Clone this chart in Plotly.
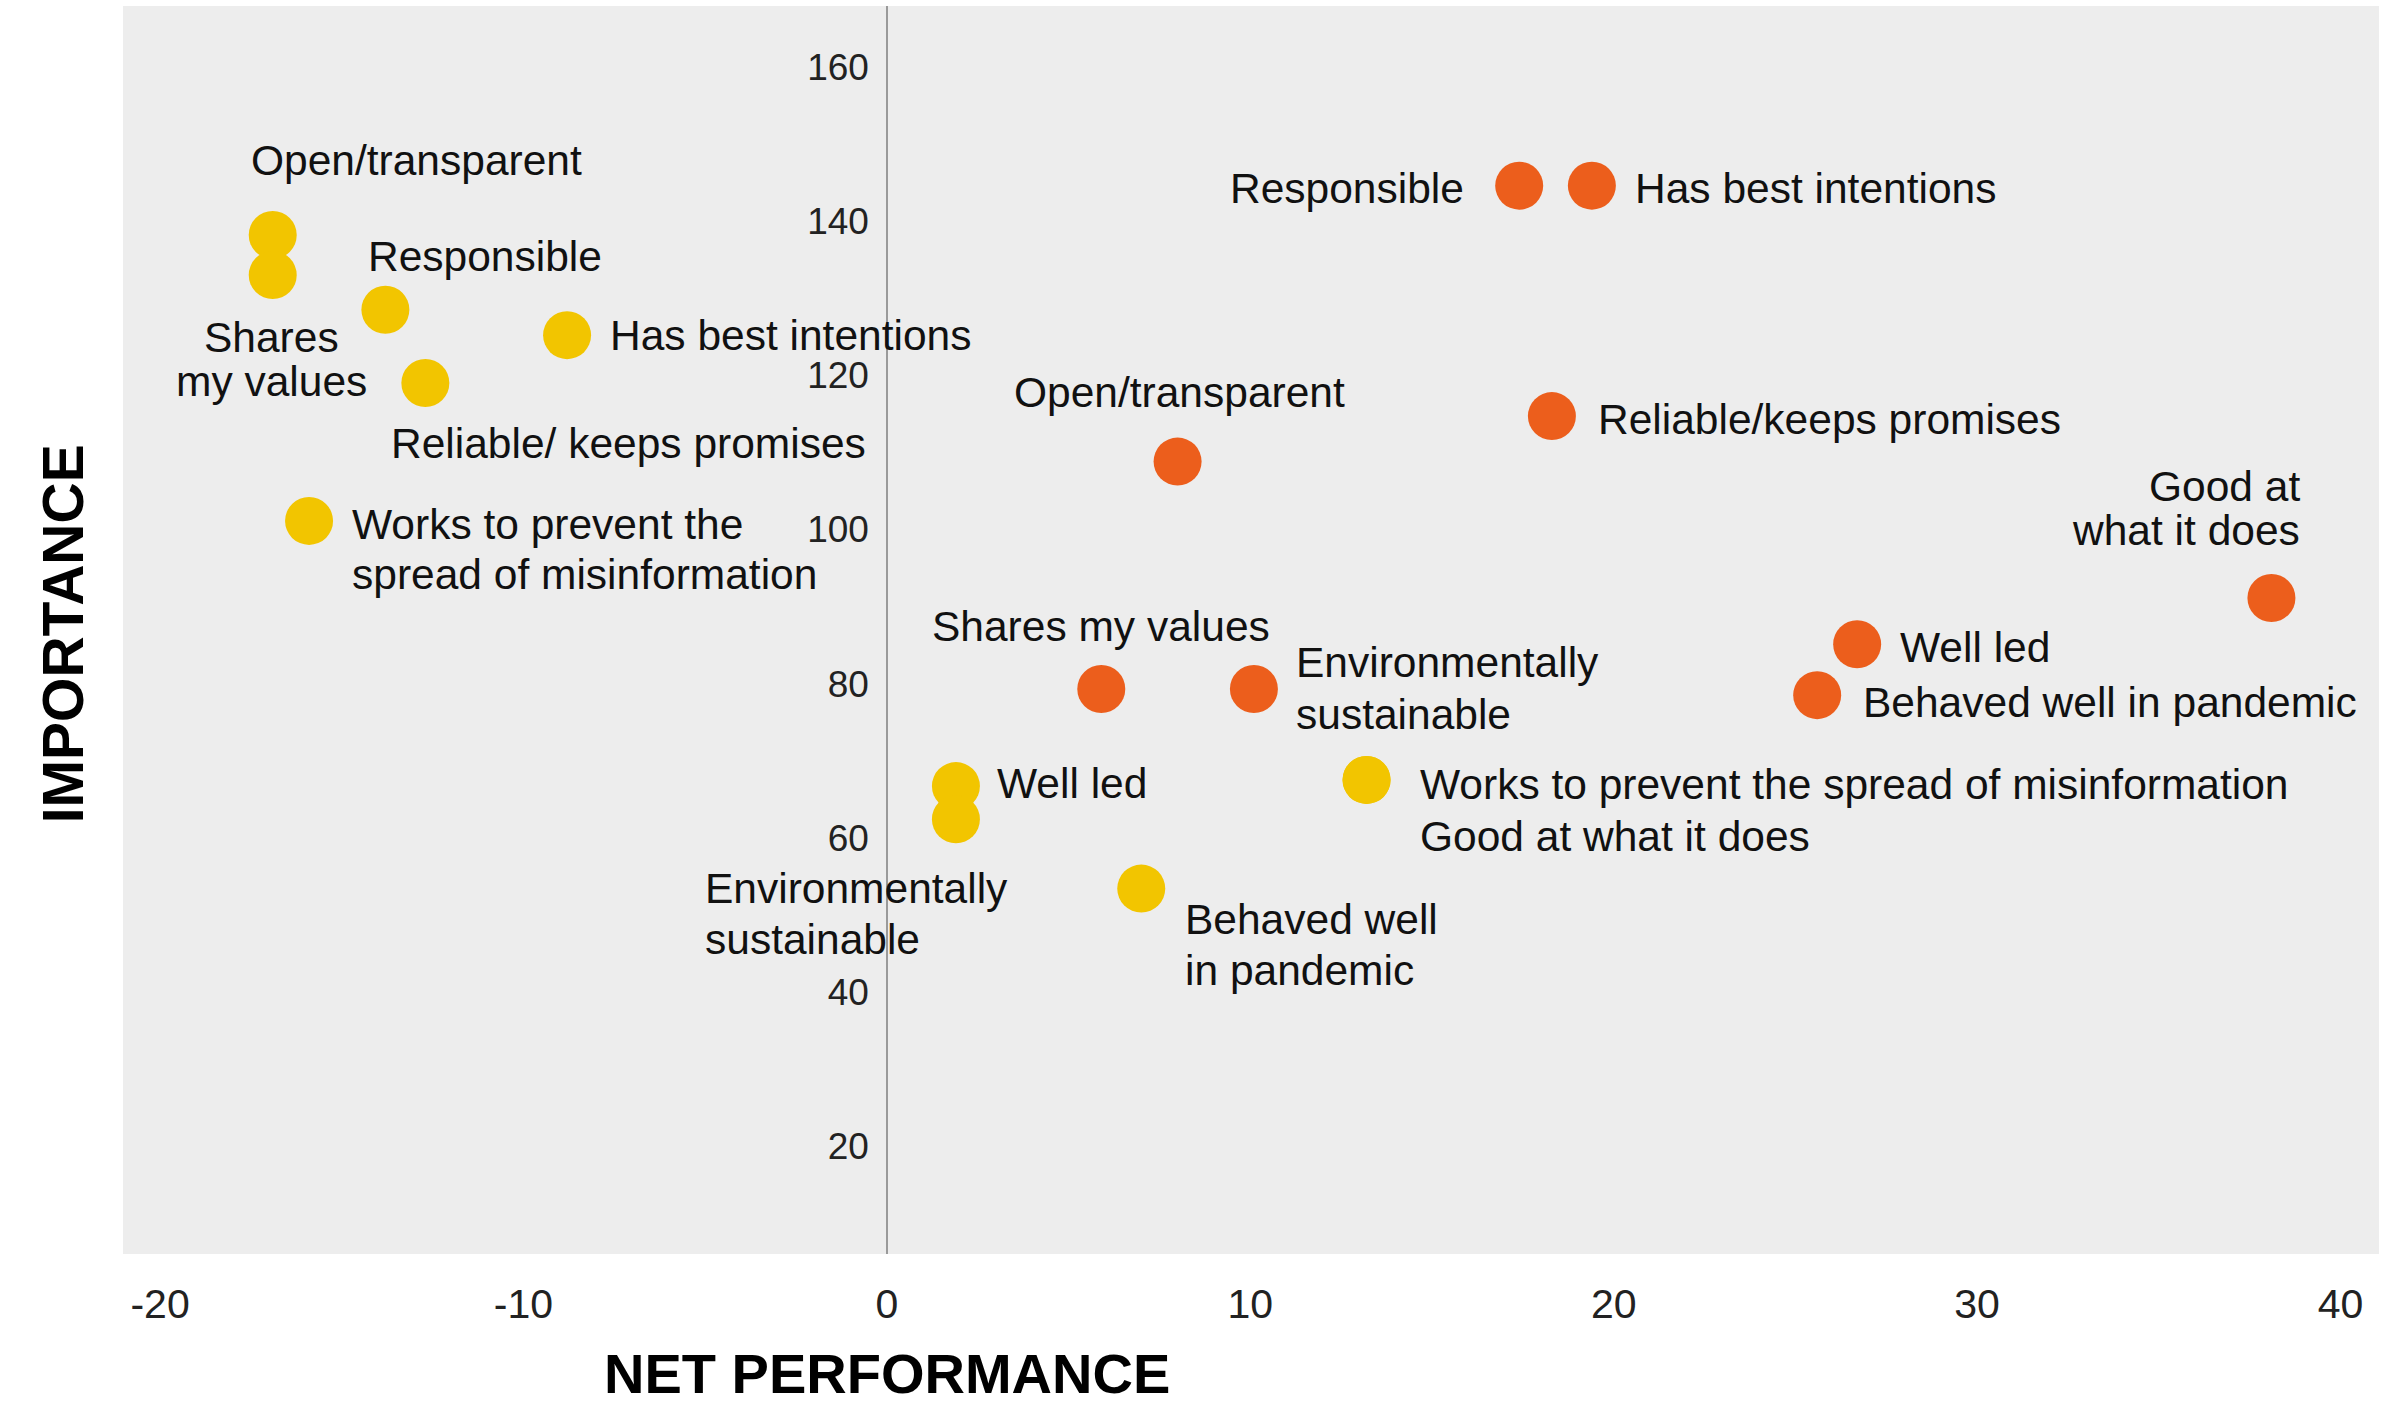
import plotly.graph_objects as go

# ---------------- data ----------------
attributes_a = ["Open/transparent", "Shares my values", "Responsible", "Has best intentions",
                "Reliable/ keeps promises", "Works to prevent the spread of misinformation",
                "Well led", "Environmentally sustainable", "Behaved well in pandemic",
                "Works to prevent the spread of misinformation (2)", "Good at what it does"]
perf_a = [-16.9, -16.9, -13.8, -8.8, -12.7, -15.9, 1.9, 1.9, 7.0, 13.2, 13.2]
imp_a = [138.2, 133.0, 128.5, 125.2, 119.0, 101.1, 66.7, 62.4, 53.4, 67.5, 67.5]

attributes_b = ["Responsible", "Has best intentions", "Open/transparent", "Reliable/keeps promises",
                "Good at what it does", "Well led", "Behaved well in pandemic",
                "Shares my values", "Environmentally sustainable"]
perf_b = [17.4, 19.4, 8.0, 18.3, 38.1, 26.7, 25.6, 5.9, 10.1]
imp_b = [144.6, 144.6, 108.8, 114.7, 91.1, 85.1, 78.5, 79.3, 79.3]

x_ticks = [-20, -10, 0, 10, 20, 30, 40]
x_tick_text = ["-20", "-10", "0", "10", "20", "30", "40"]
y_ticks = [20, 40, 60, 80, 100, 120, 140, 160]

# label layout: (lines, anchor, dx px, first-line dy px (down +), line spacing px)
labels_a = [
    (["Open/transparent"], "left", -24, -74, 0),
    (["Shares", "my values"], "center", -1, 62, 44),
    (["Responsible"], "left", -19, -53, 0),
    (["Has best intentions"], "left", 41, 0, 0),
    (["Reliable/ keeps promises"], "left", -36, 61, 0),
    (["Works to prevent the", "spread of misinformation"], "left", 41, 4, 50),
    (["Well led"], "left", 39, -3, 0),
    (["Environmentally", "sustainable"], "left", -253, 69, 51),
    (["Behaved well", "in pandemic"], "left", 42, 31, 51),
    (["Works to prevent the spread of misinformation"], "left", 51, 5, 0),
    (["Good at what it does"], "left", 51, 57, 0),
]
labels_b = [
    (["Responsible"], "right", -53, 3, 0),
    (["Has best intentions"], "left", 41, 3, 0),
    (["Open/transparent"], "center", 2, -69, 0),
    (["Reliable/keeps promises"], "left", 44, 3, 0),
    (["Good at", "what it does"], "right", 31, -112, 44),
    (["Well led"], "left", 41, 3, 0),
    (["Behaved well in pandemic"], "left", 44, 7, 0),
    (["Shares my values"], "center", 0, -62, 0),
    (["Environmentally", "sustainable"], "left", 40, -26, 52),
]

YELLOW = "#F2C500"
ORANGE = "#EC5E1C"
FONT = "Liberation Sans, Arial, Helvetica, sans-serif"

x_range = [-21.02, 41.06]
y_range = [5.99, 167.91]

fig = go.Figure()
fig.add_trace(go.Scatter(x=perf_a, y=imp_a, mode="markers", text=attributes_a,
                         marker=dict(size=48, color=YELLOW, line=dict(width=0)),
                         hoverinfo="text+x+y", showlegend=False))
fig.add_trace(go.Scatter(x=perf_b, y=imp_b, mode="markers", text=attributes_b,
                         marker=dict(size=48, color=ORANGE, line=dict(width=0)),
                         hoverinfo="text+x+y", showlegend=False))

annotations = []
def add_labels(xs, ys, specs):
    for x, y, (lines, anchor, dx, dy, sp) in zip(xs, ys, specs):
        for i, line in enumerate(lines):
            annotations.append(dict(
                x=x, y=y, xref="x", yref="y", text=line, showarrow=False,
                xanchor=anchor, yanchor="middle", xshift=dx, yshift=-(dy + i * sp),
                font=dict(family=FONT, size=42.5, color="#111111")))

add_labels(perf_a, imp_a, labels_a)
add_labels(perf_b, imp_b, labels_b)

annotations.append(dict(text="NET PERFORMANCE", x=0, xref="x", y=-0.0955, yref="paper",
                        xanchor="center", yanchor="middle", showarrow=False,
                        font=dict(family=FONT, size=56, color="#000000", weight="bold")))
annotations.append(dict(text="IMPORTANCE", x=-0.0266, xref="paper", y=0.4974, yref="paper",
                        xanchor="center", yanchor="middle", showarrow=False, textangle=-90,
                        font=dict(family=FONT, size=57, color="#000000", weight="bold")))

zero_pos = (0 - x_range[0]) / (x_range[1] - x_range[0])

fig.update_layout(
    width=2381, height=1412,
    margin=dict(l=123, r=2, t=6, b=158, pad=0),
    paper_bgcolor="#ffffff", plot_bgcolor="#ededed",
    font=dict(family=FONT, color="#222222"),
    xaxis=dict(range=x_range, tickvals=x_ticks, ticktext=x_tick_text, showgrid=False,
               zeroline=True, zerolinecolor="#9a9a9a", zerolinewidth=2, ticks="",
               showline=False, tickfont=dict(size=41, color="#222222"), ticklabelstandoff=22),
    yaxis=dict(range=y_range, tickvals=y_ticks, showgrid=False, zeroline=False,
               anchor="free", position=zero_pos, side="left", ticks="", showline=False,
               tickfont=dict(size=37, color="#222222"), ticklabelstandoff=18),
    annotations=annotations,
)

fig.write_html("out.html", config={"displayModeBar": False},
               post_script="document.body.style.margin='0';document.body.style.overflow='hidden';")
